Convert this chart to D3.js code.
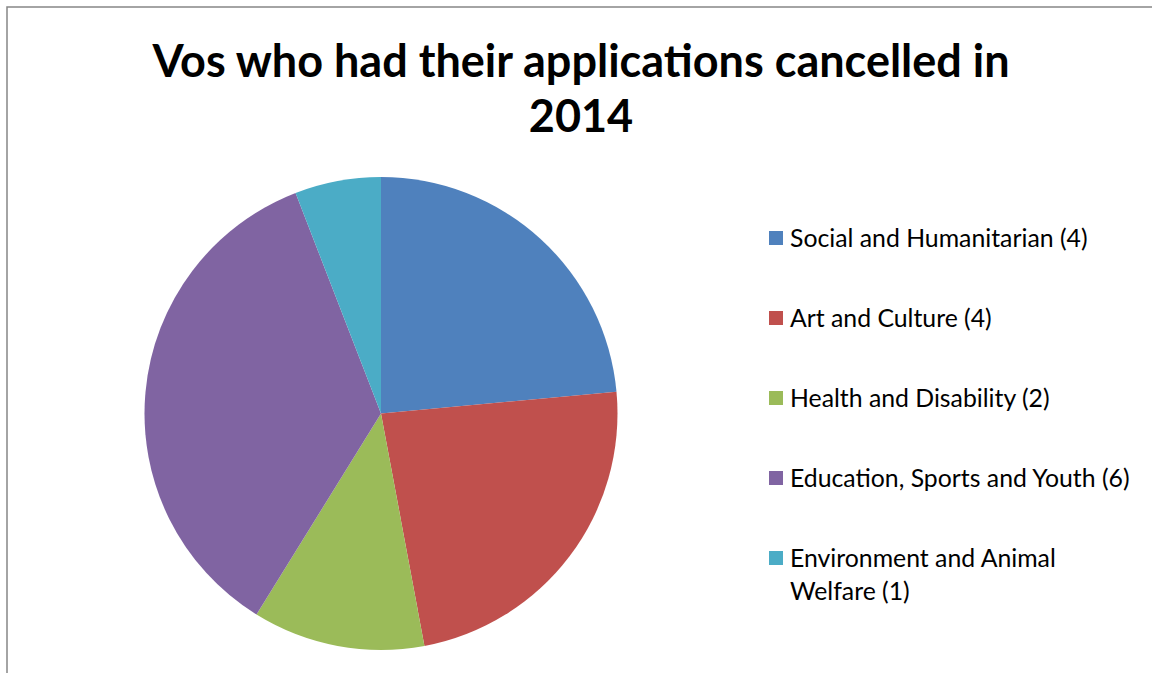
<!DOCTYPE html>
<html>
<head>
<meta charset="utf-8">
<script src="https://cdn.jsdelivr.net/npm/d3@7"></script>
<style>
  body { margin: 0; background: #fff; }
  text { font-family: Lato, 'Open Sans', sans-serif; fill: #000; }
</style>
</head>
<body>
<div id="chart"></div>
<script>
var categories = [
  'Social and Humanitarian',
  'Art and Culture',
  'Health and Disability',
  'Education, Sports and Youth',
  'Environment and Animal Welfare'
]
var counts = [4, 4, 2, 6, 1]
var colors = ['#4F81BD', '#C0504D', '#9BBB59', '#8064A2', '#4BACC6']
var titleLines = ['Vos who had their applications cancelled in', '2014']

var width = 1152
var height = 673

var svg = d3
  .select('#chart')
  .append('svg')
  .attr('width', width)
  .attr('height', height)

// chart frame (right/bottom edges fall outside the window)
svg
  .append('rect')
  .attr('x', 7)
  .attr('y', 7)
  .attr('width', 1200)
  .attr('height', 700)
  .attr('fill', 'none')
  .attr('stroke', '#868686')
  .attr('stroke-width', 1.5)

// title
svg
  .selectAll('.title')
  .data(titleLines)
  .enter()
  .append('text')
  .attr('class', 'title')
  .attr('x', 581)
  .attr('y', (d, i) => 77 + i * 55)
  .attr('text-anchor', 'middle')
  .attr('font-weight', 'bold')
  .attr('font-size', 45)
  .text(d => d)

var data = categories.map((c, i) => ({ name: c, value: counts[i], color: colors[i] }))

var pie = d3
  .pie()
  .value(d => d.value)
  .sort(null)

var arc = d3
  .arc()
  .innerRadius(0)
  .outerRadius(236.5)

var pieG = svg.append('g').attr('transform', 'translate(381,413.5)')

pieG
  .selectAll('path')
  .data(pie(data))
  .enter()
  .append('path')
  .attr('d', arc)
  .attr('fill', d => d.data.color)

// legend
var legendY = d3
  .scalePoint()
  .domain(categories)
  .range([238, 558])

var legend = svg
  .selectAll('.legend')
  .data(data)
  .enter()
  .append('g')
  .attr('class', 'legend')
  .attr('transform', d => `translate(769,${legendY(d.name)})`)

legend
  .append('rect')
  .attr('x', 0)
  .attr('y', -7)
  .attr('width', 14)
  .attr('height', 14)
  .attr('fill', d => d.color)

legend
  .append('text')
  .attr('x', 21)
  .attr('y', 0)
  .attr('dy', '0.35em')
  .attr('font-size', 24.8)
  .each(function(d) {
    var label = `${d.name} (${d.value})`
    var t = d3.select(this)
    if (d.name === 'Environment and Animal Welfare') {
      t.append('tspan').attr('x', 21).text('Environment and Animal')
      t.append('tspan').attr('x', 21).attr('dy', 33).text(`Welfare (${d.value})`)
    } else {
      t.text(label)
    }
  })
</script>
</body>
</html>
